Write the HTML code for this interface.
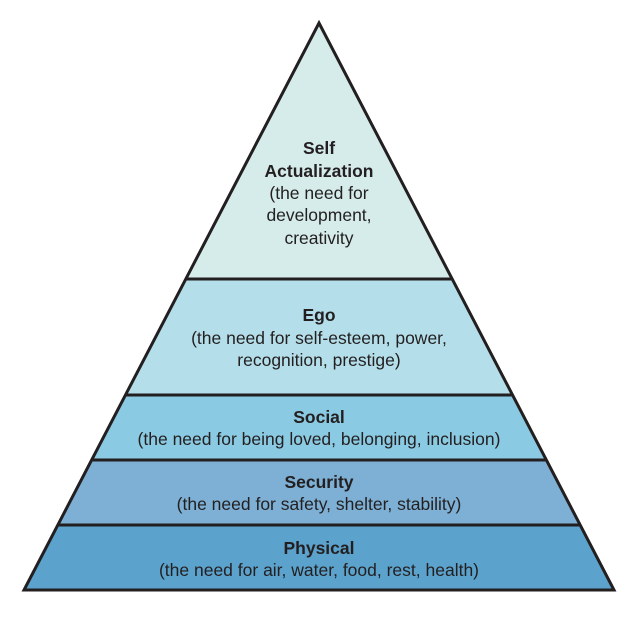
<!DOCTYPE html>
<html><head><style>body{margin:0;background:#fff}svg text{font-family:"Liberation Sans",sans-serif;fill:#231f20;text-anchor:middle}</style></head><body>
<svg width="639" height="614" viewBox="0 0 639 614">
<polygon points="319,23 186,279 452,279" fill="#d5ecea"/>
<polygon points="186,279 452,279 512,395 126,395" fill="#b4dfea"/>
<polygon points="126,395 512,395 546,460 92,460" fill="#8acae2"/>
<polygon points="92,460 546,460 580,525 58,525" fill="#7db0d4"/>
<polygon points="58,525 580,525 614,590 24,590" fill="#5ba2cc"/>
<g stroke="#231f20" stroke-width="3" fill="none">
<polygon points="319,23 614,590 24,590" stroke-linejoin="miter"/>
<line x1="186" y1="279" x2="452" y2="279"/>
<line x1="126" y1="395" x2="512" y2="395"/>
<line x1="92" y1="460" x2="546" y2="460"/>
<line x1="58" y1="525" x2="580" y2="525"/>
</g>
<g font-size="17.5">
<text x="319" y="154" font-weight="bold">Self</text>
<text x="319" y="177" font-weight="bold">Actualization</text>
<text x="319" y="199">(the need for</text>
<text x="319" y="221">development,</text>
<text x="319" y="244">creativity</text>
<text x="319" y="321" font-weight="bold">Ego</text>
<text x="319" y="344">(the need for self-esteem, power,</text>
<text x="319" y="366">recognition, prestige)</text>
<text x="319" y="423" font-weight="bold">Social</text>
<text x="319" y="445">(the need for being loved, belonging, inclusion)</text>
<text x="319" y="488" font-weight="bold">Security</text>
<text x="319" y="510">(the need for safety, shelter, stability)</text>
<text x="319" y="554" font-weight="bold">Physical</text>
<text x="319" y="576">(the need for air, water, food, rest, health)</text>
</g>
</svg>
</body></html>
